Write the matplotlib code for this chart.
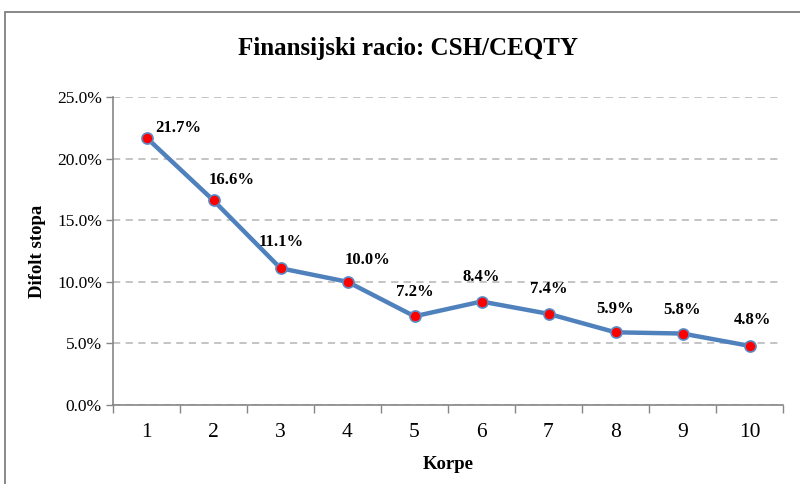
import matplotlib
matplotlib.use("Agg")
import matplotlib.pyplot as plt
from matplotlib.patches import Rectangle
from matplotlib.ticker import FuncFormatter, FixedLocator, NullFormatter

plt.rcParams["font.family"] = ["Liberation Serif", "DejaVu Serif"]

korpe = [1, 2, 3, 4, 5, 6, 7, 8, 9, 10]
stopa = [21.7, 16.6, 11.1, 10.0, 7.2, 8.4, 7.4, 5.9, 5.8, 4.8]

LINE = "#4F81BD"
GRID = "#BFBFBF"
AXIS = "#868686"

fig = plt.figure(figsize=(8.0, 4.84), dpi=100)
ax = fig.add_axes([113 / 800, 1 - 405 / 484, 670 / 800, 308 / 484])

# chart frame (runs off the right and bottom edge)
fig.patches.append(Rectangle((5 / 800, -0.1), 1.2, 1 - 12 / 484 + 0.1,
                             transform=fig.transFigure, fill=False,
                             edgecolor="#7F7F7F", linewidth=1.3))

ax.plot(korpe, stopa, color=LINE, linewidth=3.2, zorder=3,
        marker="o", markersize=8, markerfacecolor="red",
        markeredgecolor="#5B8CC6", markeredgewidth=1.2)

# label offsets in pixels
offsets = [(32, 10), (18, 20), (1, 26), (20, 22), (0, 24),
           (0, 25), (0, 25), (0, 23), (0, 24), (3, 26)]
for x, y, (dx, dy) in zip(korpe, stopa, offsets):
    ax.annotate(f"{y:.1f}%", (x, y), xytext=(dx, dy), textcoords="offset pixels",
                ha="center", va="center", fontsize=12, fontweight="bold")

ax.set_xlim(0.5, 10.5)
ax.set_ylim(0, 25)
ax.set_yticks([0, 5, 10, 15, 20, 25])
ax.yaxis.set_major_formatter(FuncFormatter(lambda v, p: f"{v:.1f}%"))
ax.grid(axis="y", color=GRID, linestyle=(0, (4, 3)), linewidth=1.3)
ax.set_axisbelow(True)

# category boundaries as ticks, labels in the middle
ax.xaxis.set_major_locator(FixedLocator([k + 0.5 for k in [0] + korpe]))
ax.xaxis.set_major_formatter(NullFormatter())
ax.xaxis.set_minor_locator(FixedLocator(korpe))
ax.xaxis.set_minor_formatter(FuncFormatter(lambda v, p: f"{int(v)}"))
ax.tick_params(axis="x", which="major", length=6, color=AXIS, width=1)
ax.tick_params(axis="x", which="minor", length=0, labelsize=15.5, pad=13)
ax.tick_params(axis="y", length=5, color=AXIS, width=1, labelsize=12.5, pad=3)

for side in ("top", "right"):
    ax.spines[side].set_visible(False)
for side in ("left", "bottom"):
    ax.spines[side].set_color(AXIS)
    ax.spines[side].set_linewidth(1.2)

ax.set_xlabel("Korpe", fontsize=13.5, fontweight="bold", labelpad=10)
ax.set_ylabel("Difolt stopa", fontsize=13.5, fontweight="bold", labelpad=8)
fig.text(0.5 + 8 / 800, 1 - 48 / 484, "Finansijski racio: CSH/CEQTY", ha="center",
         va="center", fontsize=18, fontweight="bold")

fig.savefig("out.png", dpi=100)
